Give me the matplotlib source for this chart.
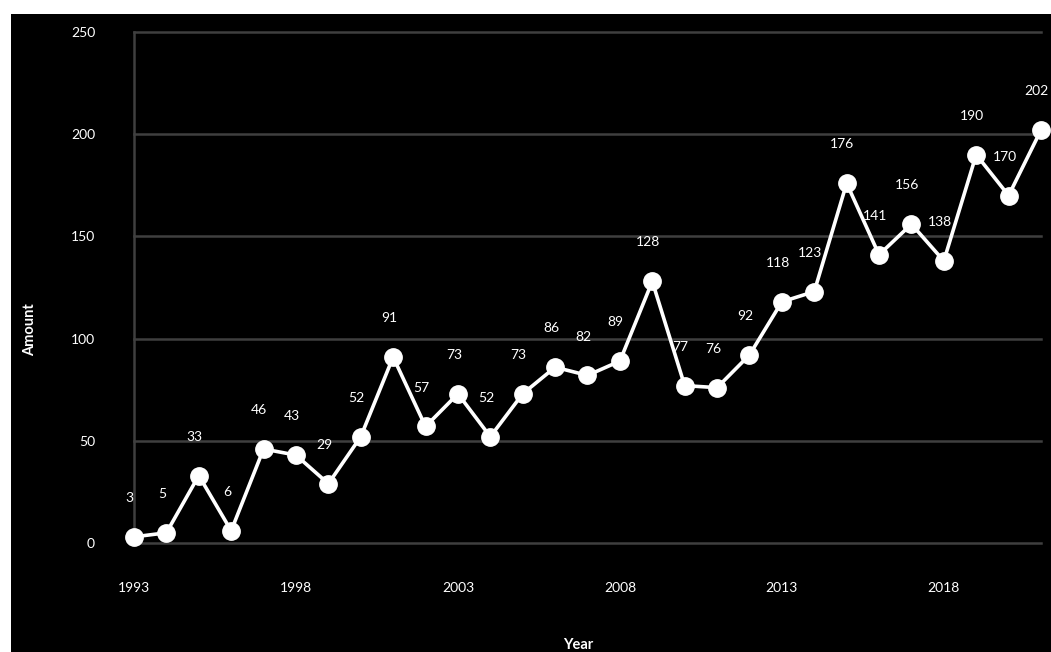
import matplotlib.pyplot as plt
from matplotlib.patches import Rectangle

plt.rcParams["font.family"] = ["Lato", "DejaVu Sans"]

years = list(range(1993, 2022))
amounts = [3, 5, 33, 6, 46, 43, 29, 52, 91, 57, 73, 52, 73, 86, 82,
           89, 128, 77, 76, 92, 118, 123, 176, 141, 156, 138, 190, 170, 202]
year_ticks = [1993, 1998, 2003, 2008, 2013, 2018]
amount_ticks = [0, 50, 100, 150, 200, 250]

W, H = 1051, 652
fig = plt.figure(figsize=(W / 100, H / 100), dpi=100, facecolor="white")
fig.patches.append(Rectangle((11 / W, 0), 1 - 11 / W, 1 - 14 / H,
                             transform=fig.transFigure, facecolor="black",
                             edgecolor="none", zorder=-10))

ax = fig.add_axes([134 / W, 109 / H, (1041 - 134) / W, (543 - 32) / H])
ax.set_facecolor("black")
ax.set_xlim(1993, 2021)
ax.set_ylim(0, 250)

grid_c = "#3f3f3f"
for v in amount_ticks:
    ax.plot([1993, 2021], [v, v], color=grid_c, lw=1.8, zorder=1, clip_on=False)
for s in ["top", "right", "bottom"]:
    ax.spines[s].set_visible(False)
ax.spines["left"].set_color(grid_c)
ax.spines["left"].set_linewidth(1.8)

ax.plot(years, amounts, color="white", lw=2.6, marker="o", ms=12.5,
        mec="white", mfc="white", zorder=3, clip_on=False)

for x, y in zip(years, amounts):
    ax.annotate(str(y), (x, y), xytext=(-3, 28), textcoords="offset points",
                ha="center", va="center", color="white", fontsize=10, zorder=4,
                annotation_clip=False)

ax.set_xticks(year_ticks)
ax.set_xticklabels([str(t) for t in year_ticks])
ax.set_yticks(amount_ticks)
ax.tick_params(axis="x", length=0, pad=28, colors="white", labelsize=10)
ax.tick_params(axis="y", length=0, pad=28, colors="white", labelsize=10)

fig.text(30 / W, 1 - 330 / H, "Amount", rotation=90, ha="center", va="center",
         color="white", fontsize=10.5, fontweight="bold")
fig.text(578 / W, 1 - 645 / H, "Year", ha="center", va="center",
         color="white", fontsize=10.5, fontweight="bold")

fig.savefig("out.png", dpi=100, facecolor="white")
